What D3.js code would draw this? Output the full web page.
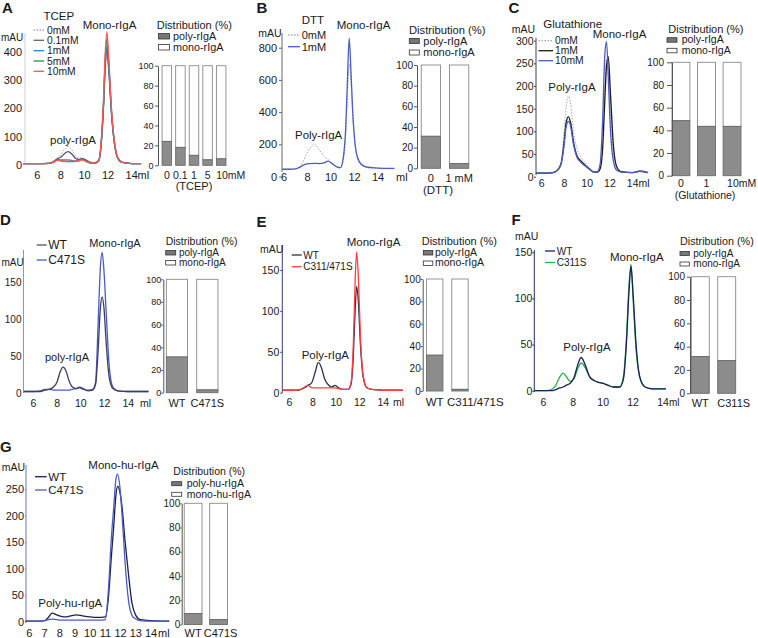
<!DOCTYPE html>
<html><head><meta charset="utf-8">
<script src="https://cdn.jsdelivr.net/npm/d3@7"></script>
<style>
body{margin:0;background:#fff}
svg text{font-family:"Liberation Sans",Arial,Helvetica,sans-serif;fill:#1a1a1a}
</style>
</head><body>
<svg id="c" width="758" height="638"></svg>
<script>
// ---------------- DATA ----------------
// Panel A (TCEP) elution volume (ml) and absorbance (mAU)
const mlA = [4.8, 6.0, 7.0, 7.4, 7.7, 8.0, 8.3, 8.6, 8.9, 9.2, 9.5, 9.8, 10.1, 10.5, 10.9, 11.2, 11.45, 11.6, 11.75, 11.9, 12.05, 12.3, 12.5, 12.8, 13.2, 14.0, 14.8];
const tcep0   = [5, 5, 6, 12, 25, 38, 55, 65, 55, 35, 25, 25, 20, 10, 8, 15, 90, 190, 330, 400, 335, 170, 85, 25, 9, 5, 5];
const tcep01  = [5, 5, 6, 12, 22, 28, 40, 47, 40, 25, 20, 22, 18, 9, 8, 15, 90, 195, 340, 410, 340, 175, 88, 26, 9, 5, 5];
const tcep1   = [5, 5, 6, 12, 20, 18, 18, 18, 16, 14, 15, 20, 15, 8, 8, 15, 95, 200, 350, 420, 345, 178, 90, 26, 9, 5, 5];
const tcep5   = [5, 5, 6, 12, 20, 15, 13, 12, 12, 12, 15, 20, 14, 7, 7, 15, 100, 210, 370, 445, 365, 185, 92, 27, 9, 5, 5];
const tcep10  = [5, 5, 6, 10, 16, 15, 14, 14, 14, 14, 15, 18, 13, 7, 7, 15, 105, 220, 390, 470, 380, 190, 95, 28, 9, 5, 5];
// Panel B (DTT)
const mlB = [5.85, 6.5, 7.0, 7.4, 7.8, 8.2, 8.6, 9.0, 9.4, 9.75, 10.1, 10.5, 10.8, 11.05, 11.25, 11.4, 11.55, 11.7, 11.85, 12.05, 12.3, 12.6, 13.0, 13.5, 14.0, 15.4];
const dtt0 = [45, 45, 48, 65, 120, 175, 200, 165, 125, 105, 80, 58, 55, 100, 250, 500, 700, 580, 380, 190, 100, 68, 56, 52, 50, 48];
const dtt1 = [45, 45, 48, 60, 75, 80, 82, 80, 85, 95, 80, 60, 55, 120, 300, 600, 860, 650, 400, 200, 110, 75, 60, 55, 52, 50];
// Panel C (Glutathione)
const mlC = [5.5, 6.5, 7.0, 7.4, 7.7, 7.95, 8.15, 8.35, 8.55, 8.8, 9.1, 9.4, 9.8, 10.2, 10.6, 10.9, 11.15, 11.35, 11.55, 11.7, 11.85, 12.05, 12.3, 12.6, 13.0, 14.0, 14.6, 15.35];
const glu0  = [8, 8, 9, 16, 32, 95, 155, 178, 160, 100, 62, 45, 32, 20, 12, 12, 25, 80, 200, 258, 240, 140, 50, 18, 10, 9, 12, 9];
const glu1  = [8, 8, 9, 15, 28, 72, 120, 132, 118, 76, 46, 36, 26, 17, 10, 10, 18, 60, 170, 245, 265, 180, 70, 22, 11, 9, 12, 9];
const glu10 = [8, 8, 9, 15, 28, 65, 110, 122, 110, 70, 43, 33, 24, 16, 10, 11, 30, 120, 270, 298, 220, 100, 35, 14, 10, 9, 12, 9];
// Panel D (WT vs C471S)
const mlD = [5.2, 6.0, 6.6, 7.0, 7.3, 7.7, 8.0, 8.25, 8.5, 8.75, 9.0, 9.3, 9.6, 9.9, 10.2, 10.6, 11.0, 11.25, 11.45, 11.65, 11.8, 11.95, 12.15, 12.4, 12.7, 13.1, 14.0, 15.7];
const dWT    = [2, 2, 2, 4, 5, 8, 15, 28, 35, 30, 17, 8, 6, 8, 6, 3, 4, 12, 55, 115, 130, 115, 65, 20, 6, 3, 2, 2];
const dC471S = [2, 2, 3, 5, 5, 4, 4, 4, 4, 4, 4, 5, 6, 7, 5, 4, 5, 15, 90, 170, 190, 165, 105, 35, 8, 3, 2, 2];
// Panel E (WT vs C311/471S)
const mlE = [5.4, 6.0, 6.6, 7.0, 7.3, 7.6, 7.9, 8.2, 8.47, 8.75, 9.0, 9.3, 9.6, 9.9, 10.2, 10.6, 11.0, 11.25, 11.45, 11.6, 11.73, 11.88, 12.05, 12.3, 12.6, 13.0, 14.0, 15.65];
const eWT   = [3, 3, 3, 4, 6, 9, 12, 25, 37, 30, 17, 10, 7, 9, 6, 4, 4, 10, 45, 100, 130, 110, 60, 18, 6, 4, 3, 3];
const eDbl  = [3, 3, 3, 4, 7, 9, 6, 6, 6, 6, 6, 6, 6, 6, 5, 4, 4, 12, 60, 135, 172, 140, 70, 20, 6, 4, 3, 3];
// Panel F (WT vs C311S)
const mlF = [5.4, 6.0, 6.5, 6.8, 7.1, 7.32, 7.55, 7.8, 8.05, 8.3, 8.53, 8.8, 9.1, 9.4, 9.7, 10.0, 10.3, 10.7, 11.1, 11.35, 11.55, 11.72, 11.86, 12.0, 12.2, 12.45, 12.8, 13.3, 14.2];
const fWT    = [0, 0, 0, 1, 3, 4, 6, 8, 14, 28, 36, 28, 15, 11, 9, 8, 6, 4, 4, 12, 50, 105, 135, 105, 50, 15, 4, 2, 2];
const fC311S = [0, 0, 1, 5, 15, 19, 15, 10, 13, 24, 30, 25, 15, 11, 9, 8, 6, 4, 4, 15, 55, 112, 137, 100, 45, 14, 4, 2, 2];
// Panel G (human, WT vs C471S)
const mlG = [5.75, 6.5, 7.0, 7.25, 7.5, 7.8, 8.1, 8.4, 8.7, 9.1, 9.5, 10.0, 10.5, 11.0, 11.2, 11.4, 11.55, 11.7, 11.8, 11.95, 12.1, 12.3, 12.5, 12.75, 13.0, 13.3, 14.0, 15.2];
const gWT    = [1, 1, 2, 8, 16, 13, 10, 9, 11, 13, 11, 9, 8, 9, 45, 125, 180, 240, 255, 245, 215, 150, 95, 35, 12, 4, 2, 1];
const gC471S = [1, 1, 2, 4, 5, 4, 3, 3, 3, 3, 3, 3, 3, 4, 60, 160, 215, 270, 278, 255, 200, 110, 45, 12, 5, 2, 1, 1];

// Tick labels
const ticksA = [0, 100, 200, 300, 400];
const ticksB = [0, 200, 400, 600, 800];
const ticksC = [0, 50, 100, 150, 200, 250, 300];
const ticks150 = [0, 50, 100, 150];
const ticksG = [0, 50, 100, 150, 200, 250];
const mlTicks = [6, 8, 10, 12, 14];
const mlTicksG = [6, 7, 8, 9, 10, 11, 12, 13, 14];
const pctTicks = [0, 20, 40, 60, 80, 100];

// Distribution (%) bars: poly fraction
const catsA = ["0", "0.1", "1", "5", "10mM"];
const polyA = [24, 18, 10, 5.5, 6.5];
const catsB = ["0", "1 mM"];
const polyB = [31, 4.5];
const catsC = ["0", "1", "10mM"];
const polyC = [48.5, 43.5, 43.5];
const catsD = ["WT", "C471S"];
const polyD = [31.5, 2.5];
const catsE = ["WT", "C311/471S"];
const polyE = [32, 1.5];
const catsF = ["WT", "C311S"];
const polyF = [31.5, 28];
const catsG = ["WT", "C471S"];
const polyG = [9, 4];

// ---------------- DRAWING ----------------
const svg = d3.select("#c");
const DOT = "#a8a8a8";

function txt(g, s, x, y, size, anchor, weight) {
  return g.append("text").attr("x", x).attr("y", y).attr("text-anchor", anchor || "start")
    .style("font-size", size + "px").style("font-weight", weight || "normal").text(s);
}

function chrom(c) {
  const g = svg.append("g");
  const x = d3.scaleLinear().domain([6, 14]).range(c.xr);
  const y = d3.scaleLinear().domain([0, c.yv]).range(c.yr);
  g.append("line").attr("x1", c.ax).attr("x2", c.ax).attr("y1", c.axTop).attr("y2", c.axBot)
    .attr("stroke", c.axisColor).attr("stroke-width", 1);
  const ag = g.append("g").attr("transform", `translate(${c.ax},0)`)
    .call(d3.axisLeft(y).tickValues(c.yTicks).tickSize(c.tick).tickSizeOuter(0).tickPadding(c.pad));
  ag.attr("font-family", null).attr("font-size", null);
  ag.select(".domain").remove();
  ag.selectAll("line").attr("stroke", c.axisColor);
  ag.selectAll("text").style("font-size", c.tf + "px").attr("fill", "#1a1a1a");
  g.selectAll(".xt").data(c.xTicks).enter().append("text")
    .attr("x", d => x(d)).attr("y", c.xLabelY).attr("text-anchor", "middle")
    .style("font-size", c.xf + "px").text(d => d);
  txt(g, "ml", c.mlX, c.xLabelY, c.mlF || c.xf);
  txt(g, "mAU", c.mau[0], c.mau[1], c.mau[2]);
  c.series.forEach(s => {
    const line = d3.line().x((d, i) => x(s.ml[i])).y(d => y(d)).curve(d3.curveMonotoneX);
    g.append("path").datum(s.v).attr("d", line).attr("fill", "none")
      .attr("stroke", s.color).attr("stroke-width", s.w || 1.3)
      .attr("stroke-dasharray", s.dash || null).attr("stroke-linejoin", "round");
  });
  if (c.legTitle) txt(g, c.legTitle[0], c.legTitle[1], c.legTitle[2], c.legTitle[3]);
  c.legend.forEach((e, i) => {
    const ly = c.legY[i];
    g.append("line").attr("x1", c.legX[0]).attr("x2", c.legX[1]).attr("y1", ly).attr("y2", ly)
      .attr("stroke", e.color).attr("stroke-width", 1.3).attr("stroke-dasharray", e.dash || null);
    txt(g, e.name, c.legX[2], ly + c.legF * 0.36, c.legF);
  });
  c.peaks.forEach(p => txt(g, p[0], p[1], p[2], p[3]));
  txt(g, c.letter[0], c.letter[1], c.letter[2], 15, "start", "bold");
}

function bars(c) {
  const g = svg.append("g");
  const x = d3.scaleBand().domain(c.cats).range(c.xr).paddingInner(c.pi).paddingOuter(c.po);
  const y = d3.scaleLinear().domain([0, 100]).range([c.y0, c.y100]);
  const rows = c.cats.map((k, i) => ({ k, p: c.poly[i] }));
  g.selectAll(".mono").data(rows).enter().append("rect")
    .attr("x", d => x(d.k)).attr("width", x.bandwidth())
    .attr("y", y(100)).attr("height", d => y(d.p) - y(100))
    .attr("fill", "#fff").attr("stroke", "#8a8a8a").attr("stroke-width", 0.9);
  g.selectAll(".poly").data(rows).enter().append("rect")
    .attr("x", d => x(d.k)).attr("width", x.bandwidth())
    .attr("y", d => y(d.p)).attr("height", d => y(0) - y(d.p))
    .attr("fill", "#8c8c8c").attr("stroke", "#6a6a6a").attr("stroke-width", 0.9);
  const ag = g.append("g").attr("transform", `translate(${c.ax},0)`)
    .call(d3.axisLeft(y).tickValues(pctTicks).tickSize(c.tick).tickSizeOuter(0).tickPadding(c.pad));
  ag.attr("font-family", null).attr("font-size", null);
  ag.select(".domain").attr("stroke", "#555");
  ag.selectAll("line").attr("stroke", "#555");
  ag.selectAll("text").style("font-size", c.tf + "px").attr("fill", "#1a1a1a");
  c.cats.forEach((k, i) => {
    const cx = x(k) + x.bandwidth() / 2 + (c.catDx ? c.catDx[i] : 0);
    txt(g, k, cx, c.catY, c.cf, c.catAnchor ? c.catAnchor[i] : "middle");
  });
  if (c.xlab) txt(g, c.xlab[0], c.xlab[1], c.xlab[2], c.xlab[3], "middle");
  txt(g, "Distribution (%)", c.leg[0], c.leg[1], c.leg[2]);
  const sw = c.sw; // [x, y1, y2, w, h, textX, tb1, tb2, size]
  g.append("rect").attr("x", sw[0]).attr("y", sw[1]).attr("width", sw[3]).attr("height", sw[4])
    .attr("fill", "#777").attr("stroke", "#333").attr("stroke-width", 0.8);
  g.append("rect").attr("x", sw[0]).attr("y", sw[2]).attr("width", sw[3]).attr("height", sw[4])
    .attr("fill", "#fff").attr("stroke", "#333").attr("stroke-width", 0.8);
  txt(g, c.names[0], sw[5], sw[6], sw[8]);
  txt(g, c.names[1], sw[5], sw[7], sw[8]);
}

// ---- Panel A ----
chrom({
  xr: [37.3, 131.7], yv: 400, yr: [165, 51.7], ax: 25, axTop: 33, axBot: 165, axisColor: "#cfcfcf",
  yTicks: ticksA, tick: 0, pad: 3, tf: 11, xTicks: mlTicks, xLabelY: 178.5, xf: 11, mlX: 137.5,
  mau: [1, 40.5, 10],
  series: [
    { ml: mlA, v: tcep0, color: DOT, dash: "1.5,1.5", w: 1 },
    { ml: mlA, v: tcep01, color: "#4d5070" },
    { ml: mlA, v: tcep1, color: "#2f7fd6" },
    { ml: mlA, v: tcep5, color: "#2e8b50" },
    { ml: mlA, v: tcep10, color: "#ff5555" }
  ],
  legTitle: ["TCEP", 43.5, 19.5, 11.5],
  legend: [
    { name: "0mM", color: DOT, dash: "1.5,1.5" },
    { name: "0.1mM", color: "#666" },
    { name: "1mM", color: "#2f7fd6" },
    { name: "5mM", color: "#2e8b50" },
    { name: "10mM", color: "#ff5555" }
  ],
  legX: [33.5, 44, 47], legY: [30, 40.3, 50.7, 61, 71.3], legF: 10.3,
  peaks: [["Mono-rIgA", 82.7, 29, 11.5], ["poly-rIgA", 50, 143.5, 11.5]],
  letter: ["A", 2, 12.5]
});
bars({
  cats: catsA, poly: polyA, xr: [158, 230], pi: 0.3, po: 0.3, y0: 165.3, y100: 65.7,
  ax: 158, tick: 3, pad: 1.5, tf: 9, catY: 178.5, cf: 10.5,
  catDx: [0, 0, 0, 0, -5], catAnchor: ["middle", "middle", "middle", "middle", "start"],
  xlab: ["(TCEP)", 194, 189.5, 11],
  leg: [156.7, 28.5, 11], sw: [158.5, 33.5, 44.5, 11, 5.5, 173, 39.5, 50.5, 10.8],
  names: ["poly-rIgA", "mono-rIgA"]
});

// ---- Panel B ----
chrom({
  xr: [284, 378], yv: 800, yr: [176.5, 47.7], ax: 282, axTop: 33, axBot: 172, axisColor: "#666",
  yTicks: ticksB, tick: 3, pad: 2, tf: 11, xTicks: mlTicks, xLabelY: 181, xf: 11, mlX: 396,
  mau: [258.3, 36.5, 10.5],
  series: [
    { ml: mlB, v: dtt0, color: DOT, dash: "1.5,1.5", w: 1 },
    { ml: mlB, v: dtt1, color: "#4b5cc4" }
  ],
  legTitle: ["DTT", 301.7, 24, 11.5],
  legend: [
    { name: "0mM", color: DOT, dash: "1.5,1.5" },
    { name: "1mM", color: "#4b5cc4" }
  ],
  legX: [288, 300, 301.7], legY: [35, 46.7], legF: 11,
  peaks: [["Mono-rIgA", 336.7, 29, 11.5], ["Poly-rIgA", 295, 139, 11.5]],
  letter: ["B", 256.5, 12.5]
});
bars({
  cats: catsB, poly: polyB, xr: [417, 473], pi: 0.32, po: 0.15, y0: 168.3, y100: 65,
  ax: 417, tick: 3, pad: 1, tf: 10, catY: 182, cf: 11,
  xlab: ["(DTT)", 438, 194, 11.5],
  leg: [409, 33.5, 11.2], sw: [409.3, 38.5, 50, 10, 5, 423.3, 44.5, 56, 11],
  names: ["poly-rIgA", "mono-rIgA"]
});

// ---- Panel C ----
chrom({
  xr: [541.7, 632.7], yv: 300, yr: [176.7, 40.7], ax: 536, axTop: 38, axBot: 175, axisColor: "#444",
  yTicks: ticksC, tick: 2, pad: 0.5, tf: 10.5, xTicks: mlTicks, xLabelY: 187, xf: 10.5, mlX: 638.5,
  mau: [511.7, 33, 10.5],
  series: [
    { ml: mlC, v: glu0, color: DOT, dash: "1.5,1.5", w: 1 },
    { ml: mlC, v: glu1, color: "#1a1a1a" },
    { ml: mlC, v: glu10, color: "#4b5cc4" }
  ],
  legTitle: ["Glutathione", 543.3, 28, 11.5],
  legend: [
    { name: "0mM", color: DOT, dash: "1.5,1.5" },
    { name: "1mM", color: "#1a1a1a" },
    { name: "10mM", color: "#4b5cc4" }
  ],
  legX: [538.5, 553, 555], legY: [40.7, 50.7, 60.7], legF: 10.3,
  peaks: [["Mono-rIgA", 592.7, 38, 11.5], ["Poly-rIgA", 548.3, 91, 11.5]],
  letter: ["C", 508.5, 13]
});
bars({
  cats: catsC, poly: polyC, xr: [672, 741], pi: 0.3, po: 0, y0: 175.7, y100: 62.3,
  ax: 672, tick: 5, pad: 3, tf: 10, catY: 186.5, cf: 10.5,
  catDx: [0, 0, -5], catAnchor: ["middle", "middle", "start"],
  xlab: ["(Glutathione)", 705, 198.5, 10.5],
  leg: [668.3, 32.5, 11], sw: [667, 37.7, 48.3, 10, 4.5, 681.7, 43, 54, 10.5],
  names: ["poly-rIgA", "mono-rIgA"]
});

// ---- Panel D ----
chrom({
  xr: [33.3, 128.3], yv: 150, yr: [393, 282], ax: 23.5, axTop: 250, axBot: 393, axisColor: "#9096b8",
  yTicks: ticks150, tick: 0, pad: 2, tf: 10, xTicks: mlTicks, xLabelY: 407, xf: 10.5, mlX: 140,
  mau: [1.5, 265.5, 10],
  series: [
    { ml: mlD, v: dC471S, color: "#4b5cc4" },
    { ml: mlD, v: dWT, color: "#3d3f62" }
  ],
  legTitle: null,
  legend: [
    { name: "WT", color: "#555" },
    { name: "C471S", color: "#4b5cc4" }
  ],
  legX: [36.7, 46.7, 48.3], legY: [245, 260], legF: 12,
  peaks: [["Mono-rIgA", 89.3, 246.5, 11], ["poly-rIgA", 45, 360.5, 11]],
  letter: ["D", 0, 225]
});
bars({
  cats: catsD, poly: polyD, xr: [163.3, 221], pi: 0.3, po: 0.1, y0: 392.7, y100: 279.3,
  ax: 163.3, tick: 2, pad: 0, tf: 9, catY: 407, cf: 11,
  leg: [165.7, 244.5, 10.5], sw: [165.7, 250.5, 260.5, 10, 4.5, 179, 255.5, 265.5, 10],
  names: ["poly-rIgA", "mono-rIgA"]
});

// ---- Panel E ----
chrom({
  xr: [289.3, 383.3], yv: 150, yr: [392.7, 270], ax: 282.3, axTop: 245, axBot: 393, axisColor: "#3a3d6a",
  yTicks: ticks150, tick: 2, pad: 1, tf: 10.5, xTicks: mlTicks, xLabelY: 405.5, xf: 10.5, mlX: 393,
  mau: [260, 253, 10.5],
  series: [
    { ml: mlE, v: eWT, color: "#2b2d55" },
    { ml: mlE, v: eDbl, color: "#ff3d3d" }
  ],
  legTitle: null,
  legend: [
    { name: "WT", color: "#2b2d55" },
    { name: "C311/471S", color: "#ff3d3d" }
  ],
  legX: [291.7, 301.7, 303.3], legY: [255, 266.7], legF: 10,
  peaks: [["Mono-rIgA", 346.7, 245.5, 11.5], ["Poly-rIgA", 301.7, 359, 11.5]],
  letter: ["E", 256.5, 226.5]
});
bars({
  cats: catsE, poly: polyE, xr: [422.7, 472], pi: 0.35, po: 0.15, y0: 391, y100: 279,
  ax: 422.7, tick: 2, pad: 0, tf: 10, catY: 405.5, cf: 11.5,
  catDx: [0, -13], catAnchor: ["middle", "start"],
  leg: [421.7, 244.5, 11], sw: [423.3, 250.5, 261, 9.5, 4.5, 435, 255.5, 266, 10.5],
  names: ["poly-rIgA", "mono-rIgA"]
});

// ---- Panel F ----
chrom({
  xr: [543.3, 663], yv: 150, yr: [390.7, 252.3], ax: 534.3, axTop: 250, axBot: 392, axisColor: "#2a2d70",
  yTicks: ticks150, tick: 2, pad: 0, tf: 10.5, xTicks: mlTicks, xLabelY: 405.5, xf: 10.5, mlX: 669, mlF: 10,
  mau: [515, 239.5, 10.5],
  series: [
    { ml: mlF, v: fC311S, color: "#22b14c" },
    { ml: mlF, v: fWT, color: "#1f2058" }
  ],
  legTitle: null,
  legend: [
    { name: "WT", color: "#1f2058" },
    { name: "C311S", color: "#22b14c" }
  ],
  legX: [545, 555, 556.7], legY: [251, 262.5], legF: 10,
  peaks: [["Mono-rIgA", 610, 260.5, 11.5], ["Poly-rIgA", 563.3, 350.5, 11.5]],
  letter: ["F", 511.5, 225]
});
bars({
  cats: catsF, poly: polyF, xr: [690, 737], pi: 0.32, po: 0.05, y0: 393.3, y100: 276.7,
  ax: 690, tick: 3, pad: 2, tf: 10, catY: 407, cf: 11,
  catDx: [0, 7], catAnchor: ["middle", "middle"],
  leg: [680, 245, 10.8], sw: [680, 251.5, 262, 9.3, 4, 693.3, 257, 267, 10],
  names: ["poly-rIgA", "mono-rIgA"]
});

// ---- Panel G ----
chrom({
  xr: [29.3, 151], yv: 250, yr: [621.7, 489], ax: 26, axTop: 465, axBot: 623, axisColor: "#7077a8",
  yTicks: ticksG, tick: 1, pad: 1, tf: 11, xTicks: mlTicksG, xLabelY: 637, xf: 11, mlX: 158,
  mau: [1.7, 470.5, 10.5],
  series: [
    { ml: mlG, v: gWT, color: "#1e1f4b" },
    { ml: mlG, v: gC471S, color: "#4b5cc4" }
  ],
  legTitle: null,
  legend: [
    { name: "WT", color: "#1e1f4b" },
    { name: "C471S", color: "#4b5cc4" }
  ],
  legX: [35, 46.7, 48.3], legY: [476.7, 490], legF: 11.5,
  peaks: [["Mono-hu-rIgA", 88.3, 469, 11.5], ["Poly-hu-rIgA", 38.3, 607, 11.5]],
  letter: ["G", 0, 451.5]
});
bars({
  cats: catsG, poly: polyG, xr: [181.7, 230], pi: 0.3, po: 0.1, y0: 624.5, y100: 503.3,
  ax: 181.7, tick: 1.5, pad: 0, tf: 10, catY: 637, cf: 11,
  catDx: [0, 2], catAnchor: ["middle", "middle"],
  leg: [173.3, 475, 10.5], sw: [171.7, 481.7, 492.3, 10, 4, 186.7, 486.5, 498, 10.5],
  names: ["poly-hu-rIgA", "mono-hu-rIgA"]
});
</script>
</body></html>
